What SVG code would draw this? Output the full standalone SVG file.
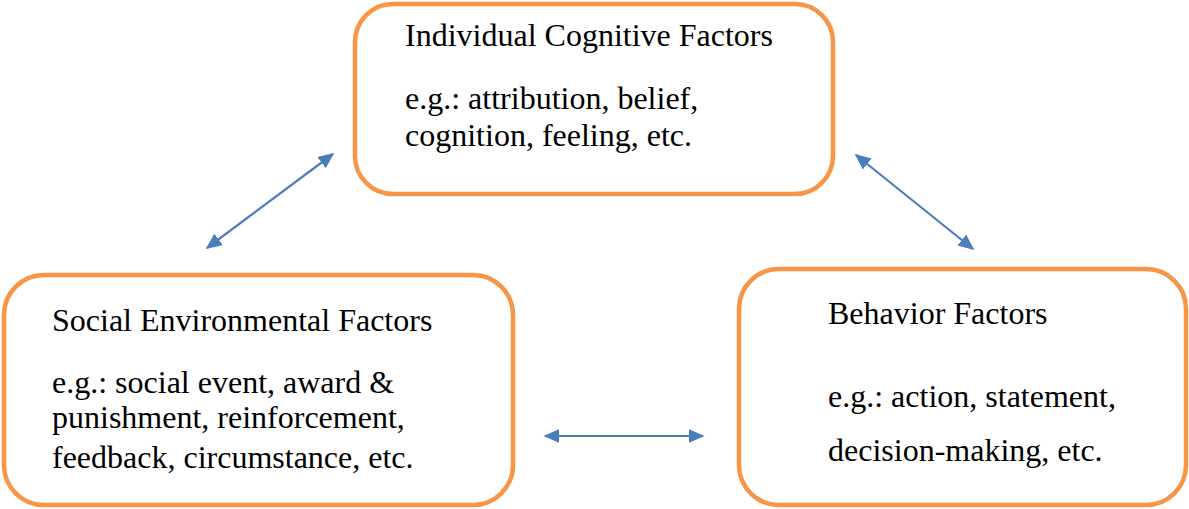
<svg xmlns="http://www.w3.org/2000/svg" width="1189" height="509" viewBox="0 0 1189 509">
<style>
.box{fill:#fff;stroke:#F79646;stroke-width:4.5}
.t{font-family:'Liberation Serif','Times New Roman',serif;font-size:32px;fill:#000}
.c{stroke:#4A7EBB;stroke-width:2.2;fill:none;marker-start:url(#ah);marker-end:url(#ah)}
</style>
<defs>
<marker id="ah" viewBox="0 0 10 10" refX="9" refY="5" markerWidth="16" markerHeight="14" markerUnits="userSpaceOnUse" orient="auto-start-reverse" preserveAspectRatio="none">
<path d="M0,0 L10,5 L0,10 z" fill="#4A7EBB"/>
</marker>
</defs>
<rect width="1189" height="509" fill="#fff"/>
<g id="cognitive">
<rect class="box" x="355" y="4" width="478" height="190" rx="38"/>
<text class="t" x="405" y="46">Individual Cognitive Factors</text>
<text class="t" x="405" y="109">e.g.: attribution, belief,</text>
<text class="t" x="405" y="146">cognition, feeling, etc.</text>
</g>
<g id="social">
<rect class="box" x="4" y="275" width="509" height="230" rx="40"/>
<text class="t" x="52" y="331">Social Environmental Factors</text>
<text class="t" x="52" y="393">e.g.: social event, award &amp;</text>
<text class="t" x="52" y="428">punishment, reinforcement,</text>
<text class="t" x="52" y="468">feedback, circumstance, etc.</text>
</g>
<g id="behavior">
<rect class="box" x="739" y="269" width="447" height="236" rx="40"/>
<text class="t" x="828" y="324">Behavior Factors</text>
<text class="t" x="828" y="407">e.g.: action, statement,</text>
<text class="t" x="828" y="461">decision-making, etc.</text>
</g>
<g id="connectors">
<line class="c" x1="207" y1="248" x2="333" y2="154"/>
<line class="c" x1="856" y1="155" x2="973" y2="249"/>
<line class="c" x1="545" y1="436" x2="703" y2="436"/>
</g>
</svg>
